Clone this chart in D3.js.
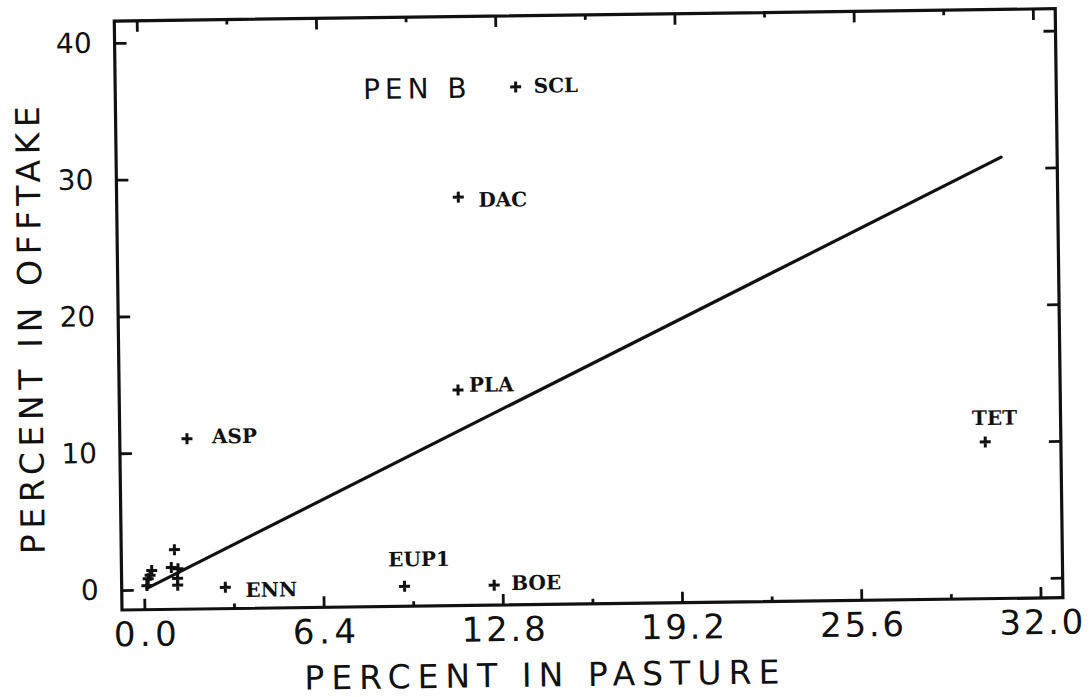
<!DOCTYPE html>
<html>
<head>
<meta charset="utf-8">
<script src="https://cdn.jsdelivr.net/npm/d3@7"></script>
<style>
  body { margin: 0; background: #fff; }
  svg { display: block; }
</style>
</head>
<body>
<svg id="chart" width="1092" height="697"></svg>
<script>
// Labelled species: share of the pasture vs. share of the offtake (%)
const species    = ["SCL", "DAC", "PLA", "ASP", "TET", "EUP1", "BOE", "ENN"];
const pasturePct = [13.5, 11.4, 11.3, 1.6, 30.1, 9.3, 12.5, 2.9];
const offtakePct = [36.4, 28.4, 14.3, 11.0, 10.0, 0.0, 0.0, 0.1];

// Unlabelled minor species crowded near the origin
const minorPasture = [1.1, 0.98, 1.22, 1.2, 1.2, 0.28, 0.15, 0.1, 0.22];
const minorOfftake = [2.9, 1.6, 1.5, 0.8, 0.3, 1.4, 0.8, 0.3, 1.05];

// Equal-share reference line (offtake = pasture)
const refLineX = [0.1, 30.8];

// Axis ticks
const xMajorTicks = [0.0, 6.4, 12.8, 19.2, 25.6, 32.0];
const xMinorTicks = [3.2, 9.6, 16.0, 22.4, 28.8];
const yTicks = [0, 10, 20, 30, 40];

const titleText = "PEN B";
const xTitle = "PERCENT IN PASTURE";
const yTitle = "PERCENT IN OFFTAKE";

// ---- layout ----
const W = 1092, H = 697;
const plot = { left: 122, right: 1063, top: 21, bottom: 610 };
const ink = "#111";
const plotterFont = "'DejaVu Sans', 'Liberation Sans', sans-serif";
const labelFont = "'DejaVu Serif', 'Liberation Serif', serif";

// label placement relative to each marker, in pixels
const labelOffset = {
  SCL: [18, 6], DAC: [20, 10], PLA: [11, 2], ASP: [25, 5],
  TET: [-13, -17], EUP1: [-16, -20], BOE: [17, 5], ENN: [20, 10]
};

const x = d3.scaleLinear().domain([-0.8, 32.8]).range([plot.left, plot.right]);
const y = d3.scaleLinear().domain([-1.46, 41.6]).range([plot.bottom, plot.top]);

const svg = d3.select("#chart");
svg.append("rect").attr("width", W).attr("height", H).attr("fill", "#fff");

// the whole plotted sheet sits at a slight tilt
const g = svg.append("g")
  .attr("transform", `rotate(-0.75 ${plot.left} ${plot.bottom})`);

// frame
g.append("rect")
  .attr("x", plot.left).attr("y", plot.top)
  .attr("width", plot.right - plot.left)
  .attr("height", plot.bottom - plot.top)
  .attr("fill", "none").attr("stroke", ink).attr("stroke-width", 3.2);

function tidy(sel, fontSize, charW) {
  sel.select(".domain").remove();
  sel.attr("font-family", null).attr("font-size", null);
  sel.selectAll(".tick line").attr("stroke", ink).attr("stroke-width", 2.8);
  sel.selectAll(".tick text")
    .attr("fill", ink)
    .style("font-family", plotterFont)
    .style("font-size", fontSize + "px")
    .each(function () {
      const t = d3.select(this);
      if (charW && t.text().length) {
        t.attr("textLength", t.text().length * charW).attr("lengthAdjust", "spacing");
      }
    });
}

// bottom axis: major ticks with labels, minor ticks without
g.append("g").attr("transform", `translate(0,${plot.bottom})`)
  .call(d3.axisBottom(x).tickValues(xMajorTicks).tickSize(-11).tickPadding(12)
    .tickFormat(d3.format(".1f")))
  .call(s => tidy(s, 34, 21));
g.append("g").attr("transform", `translate(0,${plot.bottom})`)
  .call(d3.axisBottom(x).tickValues(xMinorTicks).tickSize(-5).tickFormat(""))
  .call(s => tidy(s, 10));

// top axis (ticks only)
g.append("g").attr("transform", `translate(0,${plot.top})`)
  .call(d3.axisTop(x).tickValues(xMajorTicks).tickSize(-11).tickFormat(""))
  .call(s => tidy(s, 10));
g.append("g").attr("transform", `translate(0,${plot.top})`)
  .call(d3.axisTop(x).tickValues(xMinorTicks).tickSize(-5).tickFormat(""))
  .call(s => tidy(s, 10));

// left axis with labels, right axis ticks only
g.append("g").attr("transform", `translate(${plot.left},0)`)
  .call(d3.axisLeft(y).tickValues(yTicks).tickSize(-12).tickPadding(23)
    .tickFormat(d3.format("d")))
  .call(s => tidy(s, 28));
g.append("g").attr("transform", `translate(${plot.right},0)`)
  .call(d3.axisRight(y).tickValues(yTicks).tickSize(-12).tickFormat(""))
  .call(s => tidy(s, 10));

// axis titles
g.append("text")
  .attr("x", 541).attr("y", 692)
  .attr("text-anchor", "middle")
  .attr("textLength", 475).attr("lengthAdjust", "spacing")
  .style("font-family", plotterFont).style("font-size", "33px")
  .attr("fill", ink)
  .text(xTitle);

g.append("text")
  .attr("transform", "translate(45.5,329) rotate(-90)")
  .attr("text-anchor", "middle")
  .attr("textLength", 448).attr("lengthAdjust", "spacing")
  .style("font-family", plotterFont).style("font-size", "33px")
  .attr("fill", ink)
  .text(yTitle);

// panel title
g.append("text")
  .attr("x", x(8.05)).attr("y", y(35.66))
  .style("font-family", plotterFont).style("font-size", "28px")
  .style("letter-spacing", "5px")
  .attr("fill", ink)
  .text(titleText);

// equal-share line
const line = d3.line().x(d => x(d)).y(d => y(d));
g.append("path")
  .datum(refLineX)
  .attr("d", line)
  .attr("fill", "none").attr("stroke", ink).attr("stroke-width", 3.2)
  .attr("stroke-linecap", "round");

// plus markers
const plusPath = "M-5.5,0H5.5M0,-5.5V5.5";
const labelled = species.map((s, i) => ({ name: s, px: pasturePct[i], py: offtakePct[i] }));
const minor = minorPasture.map((v, i) => ({ px: v, py: minorOfftake[i] }));

g.append("g").selectAll("path")
  .data(labelled.concat(minor))
  .join("path")
  .attr("d", plusPath)
  .attr("transform", d => `translate(${x(d.px)},${y(d.py)})`)
  .attr("stroke", ink).attr("stroke-width", 3).attr("fill", "none");

// species labels
g.append("g").selectAll("text")
  .data(labelled)
  .join("text")
  .attr("x", d => x(d.px) + labelOffset[d.name][0])
  .attr("y", d => y(d.py) + labelOffset[d.name][1])
  .style("font-family", labelFont).style("font-size", "20px").style("font-weight", "bold")
  .attr("fill", ink)
  .text(d => d.name);
</script>
</body>
</html>
